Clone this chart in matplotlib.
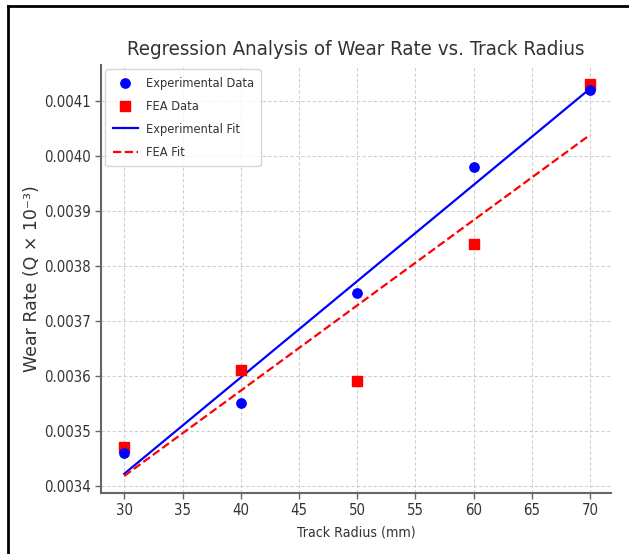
import numpy as np
import matplotlib
matplotlib.use("Agg")
import matplotlib.pyplot as plt
from matplotlib.lines import Line2D

plt.rcParams['font.family'] = ['DejaVu Sans']
plt.rcParams['font.stretch'] = 'condensed'

track_radius = [30, 40, 50, 60, 70]
exp_wear = [0.00346, 0.00355, 0.00375, 0.00398, 0.00412]
fea_wear = [0.00347, 0.00361, 0.00359, 0.00384, 0.00413]
x_ticks = [30, 35, 40, 45, 50, 55, 60, 65, 70]
y_ticks = [0.0034, 0.0035, 0.0036, 0.0037, 0.0038, 0.0039, 0.0040, 0.0041]

fig = plt.figure(figsize=(6.29, 5.54), dpi=100)
ax = fig.add_axes([101/629, 1-493/554, 510/629, 428/554])

x = np.array(track_radius, dtype=float)
pe = np.polyfit(x, exp_wear, 1)
pf = np.polyfit(x, fea_wear, 1)

ax.scatter(x, fea_wear, marker='s', color='red', s=42, label='FEA Data', zorder=3)
ax.scatter(x, exp_wear, marker='o', color='blue', s=45, label='Experimental Data', zorder=4)
ax.plot(x, np.polyval(pe, x), color='blue', lw=1.6, label='Experimental Fit', zorder=2)
ax.plot(x, np.polyval(pf, x), color='red', lw=1.6, ls='--', label='FEA Fit', zorder=2)

ax.set_xlim(28.0, 71.8)
ax.set_ylim(0.003387, 0.004165)
ax.set_xticks(x_ticks)
ax.set_yticks(y_ticks)
ax.set_yticklabels([f"{v:.4f}" for v in y_ticks])
ax.grid(True, ls=(0, (3, 2)), color='#cfcfcf', lw=0.8)
for s in ['top', 'right']:
    ax.spines[s].set_visible(False)
for s in ['left', 'bottom']:
    ax.spines[s].set_color('#666666')
    ax.spines[s].set_linewidth(1.5)
ax.tick_params(colors='#666666', labelcolor='#333333', labelsize=10.7, length=4, width=1)
ax.set_title('Regression Analysis of Wear Rate vs. Track Radius', fontsize=14.7, color='#333333', pad=7)
ax.set_xlabel('Track Radius (mm)', fontsize=10.2, color='#333333', labelpad=5)
ax.set_ylabel('Wear Rate (Q × 10⁻³)', fontsize=12.5, color='#333333', fontstretch='normal', labelpad=2)

h, l = ax.get_legend_handles_labels()
order = [1, 0, 2, 3]
leg = ax.legend([h[i] for i in order], [l[i] for i in order], loc='upper left', fontsize=9.2,
                labelspacing=0.8, borderpad=0.55, handletextpad=0.6, borderaxespad=0.35)
for t in leg.get_texts():
    t.set_color('#333333')

fig.add_artist(Line2D([8/629, 8/629], [0, 1-6/554], color='black', lw=2, transform=fig.transFigure))
fig.add_artist(Line2D([8/629, 1], [1-6/554, 1-6/554], color='black', lw=2, transform=fig.transFigure))

fig.savefig('out.png', dpi=100)
